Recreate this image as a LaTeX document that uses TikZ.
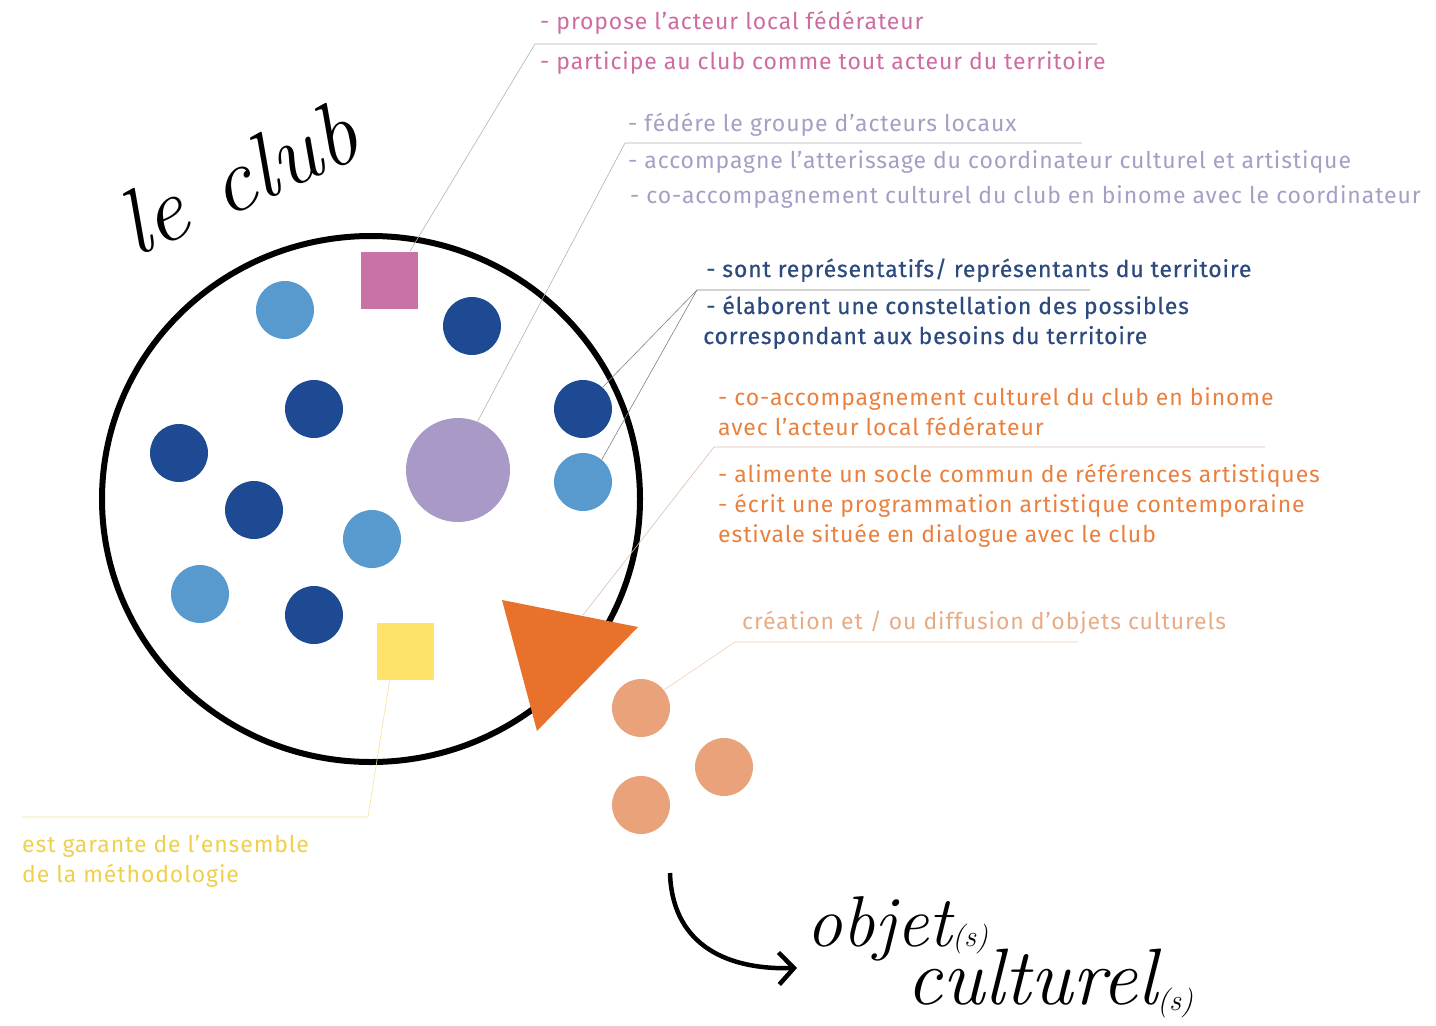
\documentclass[tikz,border=0pt]{standalone}
\usepackage{fontspec}
\setsansfont{Fira Sans}
\usepackage{tikz}
\usetikzlibrary{arrows.meta,shapes.geometric}

\definecolor{clubpink}{RGB}{200,114,168}
\definecolor{txtpink}{RGB}{206,108,162}
\definecolor{clubmauve}{RGB}{168,153,198}
\definecolor{txtmauve}{RGB}{166,158,196}
\definecolor{darkblue}{RGB}{30,74,148}
\definecolor{txtblue}{RGB}{44,74,126}
\definecolor{lightblue}{RGB}{88,154,206}
\definecolor{clubor}{RGB}{232,114,44}
\definecolor{txtor}{RGB}{234,128,62}
\definecolor{salmon}{RGB}{234,162,122}
\definecolor{txtsalmon}{RGB}{232,172,132}
\definecolor{clubyel}{RGB}{255,226,106}
\definecolor{txtyel}{RGB}{238,208,76}

\begin{document}
\begin{tikzpicture}[x=1pt,y=-1pt,
	dotdb/.style={circle,fill=darkblue,minimum size=58,inner sep=0},
	dotlb/.style={circle,fill=lightblue,minimum size=58,inner sep=0},
	dotsa/.style={circle,fill=salmon,minimum size=58,inner sep=0},
	boxsq/.style={rectangle,minimum size=57,inner sep=0},
	txt/.style={anchor=base west,inner sep=0,font=\sffamily\fontsize{23}{27}\selectfont\addfontfeature{LetterSpace=3.9}},
	leader/.style={line width=0.6,gray!60},
	hand/.style={inner sep=0,font=\rmfamily\itshape\fontsize{80}{80}\selectfont}]
	
	\useasboundingbox (0,0) rectangle (1436,1026);
	
	% le club
	\node[draw,ellipse,line width=6,minimum width=538,minimum height=526,inner sep=0] (club) at (371,499) {};
	\node[hand,rotate=24,font=\rmfamily\itshape\fontsize{92}{92}\selectfont] (le) at (152,216) {le};
	\node[hand,rotate=24,font=\rmfamily\itshape\fontsize{92}{92}\selectfont] (clubtxt) at (282,158) {club};
	
	\node[boxsq,fill=clubpink] (sq1) at (389,280) {};
	\node[boxsq,fill=clubyel] (sq2) at (405,651) {};
	\node[circle,fill=clubmauve,minimum size=104,inner sep=0] (pu) at (458,470) {};
	
	\node[dotlb] (lb1) at (285,310) {};
	\node[dotlb] (lb2) at (583,482) {};
	\node[dotlb] (lb3) at (372,539) {};
	\node[dotlb] (lb4) at (200,594) {};
	\node[dotdb] (db1) at (472,326) {};
	\node[dotdb] (db2) at (314,409) {};
	\node[dotdb] (db3) at (179,453) {};
	\node[dotdb] (db4) at (583,409) {};
	\node[dotdb] (db5) at (254,510) {};
	\node[dotdb] (db6) at (314,615) {};
	
	\coordinate (tri1) at (502,600);
	\coordinate (tri2) at (638,627);
	\coordinate (tri3) at (537,731);
	\fill[clubor] (tri1) -- (tri2) -- (tri3) -- cycle;
	\coordinate (trilead) at (583,615);
	
	\node[dotsa] (sa1) at (641,708) {};
	\node[dotsa] (sa2) at (724,767) {};
	\node[dotsa] (sa3) at (641,805) {};
	
	% textes
	\node[txt,txtpink] (pk1) at (540,29) {- propose l'acteur local fédérateur};
	\node[txt,txtpink] (pk2) at (540,69) {- participe au club comme tout acteur du territoire};
	\coordinate (pkel) at (535,44);
	\coordinate (pkend) at (1097,44);
	\draw[leader] (sq1.54) -- (pkel) -- (pkend);
	
	\node[txt,txtmauve] (mv1) at (628,131) {- fédére le groupe d'acteurs locaux};
	\node[txt,txtmauve] (mv2) at (628,168) {- accompagne l'atterissage du coordinateur culturel et artistique};
	\node[txt,txtmauve] (mv3) at (630,203) {- co-accompagnement culturel du club en binome avec le coordinateur};
	\coordinate (mvel) at (625,143);
	\coordinate (mvend) at (1082,143);
	\draw[leader] (pu.68) -- (mvel) -- (mvend);
	
	\node[txt,txtblue,font=\sffamily\fontsize{23}{27}\selectfont\addfontfeature{LetterSpace=3.6,FakeBold=0.5}] (bl1) at (706,277) {- sont représentatifs/ représentants du territoire};
	\node[txt,txtblue,font=\sffamily\fontsize{23}{27}\selectfont\addfontfeature{LetterSpace=3.6,FakeBold=0.5}] (bl2) at (706,314) {- élaborent une constellation des possibles};
	\node[txt,txtblue,font=\sffamily\fontsize{23}{27}\selectfont\addfontfeature{LetterSpace=3.6,FakeBold=0.5}] (bl3) at (703,344) {correspondant aux besoins du territoire};
	\coordinate (blel) at (697,290);
	\coordinate (blend) at (1090,290);
	\draw[leader,gray] (db4.48) -- (blel) -- (blend);
	\draw[leader,gray] (lb2.50) -- (blel);
	
	\node[txt,txtor] (or1) at (718,405) {- co-accompagnement culturel du club en binome};
	\node[txt,txtor] (or2) at (718,435) {avec l'acteur local fédérateur};
	\node[txt,txtor] (or3) at (718,482) {- alimente un socle commun de références artistiques};
	\node[txt,txtor] (or4) at (718,512) {- écrit une programmation artistique contemporaine};
	\node[txt,txtor] (or5) at (718,542) {estivale située en dialogue avec le club};
	\coordinate (orel) at (714,447);
	\coordinate (orend) at (1265,447);
	\draw[leader,txtor!50!gray!50] (trilead) -- (orel) -- (orend);
	
	\node[txt,txtsalmon] (sl1) at (742,629) {création et / ou diffusion d'objets culturels};
	\coordinate (slel) at (735,642);
	\coordinate (slend) at (1078,642);
	\draw[leader,txtsalmon!60] (sa1.38) -- (slel) -- (slend);
	
	\node[txt,txtyel] (ye1) at (22,852) {est garante de l'ensemble};
	\node[txt,txtyel] (ye2) at (22,882) {de la méthodologie};
	\coordinate (yeel) at (368,817);
	\coordinate (yeend) at (22,817);
	\draw[leader,txtyel!60] (sq2.-118) -- (yeel) -- (yeend);
	
	% objets culturels
	\coordinate (arrs) at (670,873);
	\coordinate (arre) at (797,968);
	\draw[line width=4.5,-{Straight Barb[length=15pt,width=32pt]}] (arrs) .. controls (672,940) and (720,970) .. (arre);
	\node[hand,anchor=base west,font=\rmfamily\itshape\fontsize{72}{72}\selectfont] (objet) at (806,946) {objet{\fontsize{30}{30}\selectfont(s)}};
	\node[hand,anchor=base west] (cult) at (906,1004) {culturel\raisebox{-6pt}{\fontsize{30}{30}\selectfont(s)}};
	
\end{tikzpicture}
\end{document}
